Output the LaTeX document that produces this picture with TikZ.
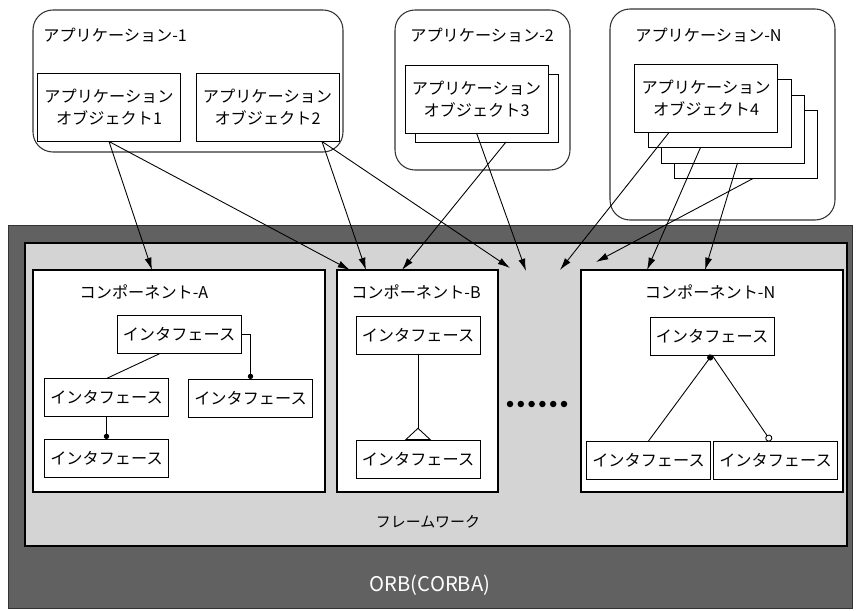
\documentclass[tikz,border=0pt]{standalone}
\usepackage{fontspec}
\setmainfont{Noto Sans CJK JP}
\usepackage{tikz}
\usetikzlibrary{arrows.meta,positioning,calc}
\definecolor{orbgray}{gray}{0.38}
\definecolor{fwgray}{gray}{0.83}

\begin{document}
\begin{tikzpicture}[
    appbox/.style={draw=black!80, line width=0.6pt, rounded corners=0.4cm, inner sep=0pt, outer sep=0pt},
    appobj/.style={draw, line width=0.5pt, fill=white, font=\fontsize{9.2pt}{12.5pt}\selectfont, align=center, minimum width=2.86cm, minimum height=1.36cm, inner sep=0pt, outer sep=0pt},
    comp/.style={draw, line width=1.3pt, fill=white, minimum height=4.44cm, inner sep=0pt, outer sep=0pt},
    itf/.style={draw, line width=0.5pt, fill=white, font=\fontsize{9.2pt}{11pt}\selectfont, minimum width=2.48cm, minimum height=0.76cm, inner sep=0pt, outer sep=0pt},
    lbl/.style={font=\fontsize{9.2pt}{11pt}\selectfont, inner sep=0pt},
    call/.style={-{Latex[length=7pt,width=4pt]}, line width=0.5pt}
    ]
\useasboundingbox (0,0) rectangle (17.12,12.2);

    %ORB et framework
    \node[draw=black!80, fill=orbgray, minimum width=16.88cm, minimum height=7.66cm, inner sep=0pt] (orb) at (8.6,3.87) {};
    \node[draw, line width=0.7pt, fill=fwgray, minimum width=16.44cm, minimum height=6.06cm, inner sep=0pt] (fw) at (8.72,4.31) {};
    \node[lbl, font=\fontsize{8.5pt}{10pt}\selectfont] (fwlabel) at (8.56,1.76) {フレームワーク};
    \node[lbl, font=\fontsize{11.5pt}{13pt}\selectfont, text=white] (orblabel) at (8.6,0.5) {ORB(CORBA)};

    %components
    \node[comp, minimum width=5.84cm] (compA) at (3.58,4.58) {};
    \node[comp, minimum width=3.22cm] (compB) at (8.35,4.58) {};
    \node[comp, minimum width=5.24cm] (compN) at (14.24,4.58) {};
    \node[lbl] (lblA) at (2.88,6.37) {コンポーネント-A};
    \node[lbl] (lblB) at (8.32,6.37) {コンポーネント-B};
    \node[lbl] (lblN) at (14.2,6.37) {コンポーネント-N};

    \node[itf] (itfA1) at (3.58,5.51) {インタフェース};
    \node[itf] (itfA2) at (2.13,4.25) {インタフェース};
    \node[itf] (itfA3) at (5.01,4.24) {インタフェース};
    \node[itf] (itfA4) at (2.13,3.04) {インタフェース};
    \node[itf] (itfB1) at (8.36,5.50) {インタフェース};
    \node[itf] (itfB2) at (8.36,3.02) {インタフェース};
    \node[itf] (itfN1) at (14.24,5.48) {インタフェース};
    \node[itf] (itfN2) at (12.97,3.00) {インタフェース};
    \node[itf] (itfN3) at (15.51,3.00) {インタフェース};

    \draw[line width=0.5pt] (itfA1.225) -- (itfA2.north);
    \draw[line width=0.5pt, -{Circle[length=3pt]}] (itfA1.east) -| (itfA3.north);
    \draw[line width=0.5pt, -{Circle[length=3pt]}] (itfA2.south) -- (itfA4.north);
    \draw[line width=0.5pt, -{Triangle[open,reversed,width=15pt,length=7pt,fill=white]}] (itfB1.south) -- (itfB2.north);
    \draw[line width=0.5pt, -{Circle[length=3.5pt]}] (itfN2.north) -- (itfN1.south);
    \draw[line width=0.5pt, -{Circle[open,length=4pt,fill=white]}] (itfN1.south) -- (itfN3.104);

    \foreach \i in {0,...,5}
        \fill (10.2+0.216*\i,4.12) circle (0.065);

    %applications
    \node[appbox, minimum width=6.2cm, minimum height=2.84cm] (app1) at (3.76,10.58) {};
    \node[appbox, minimum width=3.5cm, minimum height=3.2cm] (app2) at (9.65,10.4) {};
    \node[appbox, minimum width=4.5cm, minimum height=4.22cm] (appN) at (14.45,9.91) {};
    \node[lbl, anchor=west] (lblApp1) at (0.86,11.5) {アプリケーション-1};
    \node[lbl, anchor=west] (lblApp2) at (8.2,11.5) {アプリケーション-2};
    \node[lbl, anchor=west] (lblAppN) at (12.7,11.5) {アプリケーション-N};

    \node[appobj] (obj1) at (2.18,10.05) {アプリケーション\\オブジェクト1};
    \node[appobj] (obj2) at (5.35,10.05) {アプリケーション\\オブジェクト2};
    \node[appobj] (obj3s) at (9.73,10.04) {};
    \node[appobj] (obj3) at (9.53,10.22) {アプリケーション\\オブジェクト3};
    \node[appobj] (obj4c) at (14.92,9.31) {};
    \node[appobj] (obj4b) at (14.65,9.62) {};
    \node[appobj] (obj4a) at (14.39,9.93) {};
    \node[appobj] (obj4) at (14.12,10.23) {アプリケーション\\オブジェクト4};

    %free ends in the framework
    \coordinate (fw1) at (10.2,6.84);
    \coordinate (fw2) at (10.52,6.78);
    \coordinate (fw3) at (11.2,6.8);
    \coordinate (fw4) at (11.92,6.96);

    \path (obj1.south) edge [call] ([xshift=-0.54cm]compA.north);
    \path (obj1.south) edge [call] ([xshift=0.26cm]compB.north west);
    \path ([xshift=-0.34cm]obj2.south east) edge [call] ([xshift=0.58cm]compB.north west);
    \path ([xshift=-0.34cm]obj2.south east) edge [call] (fw1);
    \path (obj3.south) edge [call] (fw2);
    \path ([xshift=0.39cm]obj3s.south) edge [call] ([xshift=1.3cm]compB.north west);
    \path ([xshift=-0.74cm]obj4.south) edge [call] (fw3);
    \path ([xshift=-0.38cm]obj4a.south) edge [call] ([xshift=1.32cm]compN.north west);
    \path ([xshift=0.1cm]obj4b.south) edge [call] ([xshift=2.48cm]compN.north west);
    \path ([xshift=0.14cm]obj4c.south) edge [call] (fw4);
\end{tikzpicture}
\end{document}
